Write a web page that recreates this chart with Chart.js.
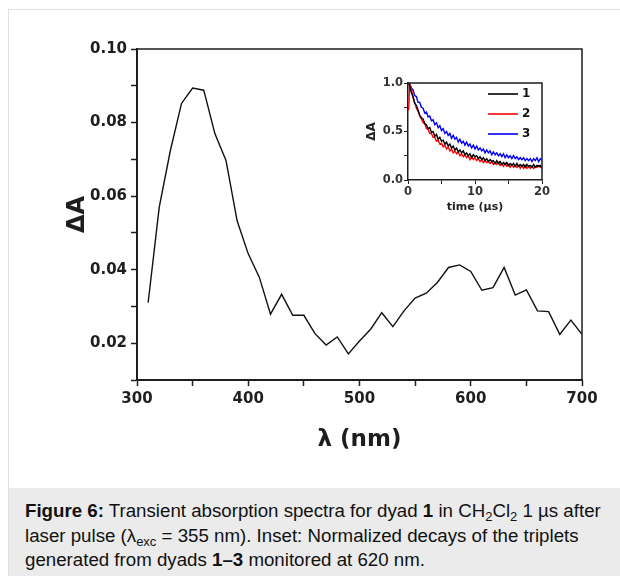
<!DOCTYPE html>
<html>
<head>
<meta charset="utf-8">
<script src="https://cdn.jsdelivr.net/npm/chart.js@4/dist/chart.umd.min.js"></script>
<style>
  body { margin: 0; width: 620px; height: 576px; overflow: hidden; background: #fff; position: relative;
         font-family: 'Liberation Sans', Arial, sans-serif; }
  #frame { position: absolute; left: 8px; top: 9px; width: 620px; height: 580px;
           border-left: 1px solid #e0e0e0; border-top: 1px solid #e0e0e0; }
  #main { position: absolute; left: 0; top: 0; }
  #inset { position: absolute; left: 365px; top: 65px; }
  #caption { position: absolute; left: 9px; top: 488px; width: 611px; height: 88px; background: #ebebeb;
             box-sizing: border-box; padding: 11px 0 0 16px; font-size: 18.7px; line-height: 24.5px;
             color: #111; white-space: nowrap; }
  #caption sub { font-size: 13px; vertical-align: -4px; line-height: 0; }
</style>
</head>
<body>
<div id="frame"></div>
<canvas id="main" width="620" height="488"></canvas>
<canvas id="inset" width="195" height="155"></canvas>
<div id="caption"><b>Figure 6:</b> Transient absorption spectra for dyad <b>1</b> in CH<sub>2</sub>Cl<sub>2</sub> 1 µs after<br>laser pulse (λ<sub>exc</sub> = 355 nm). Inset: Normalized decays of the triplets<br>generated from dyads <b>1–3</b> monitored at 620 nm.</div>
<script>
// ---------- Data: main spectrum ----------
const wavelength = [310, 320, 330, 340, 350, 360, 370, 380, 390, 400,
                    410, 420, 430, 440, 450, 460, 470, 480, 490, 500,
                    510, 520, 530, 540, 550, 560, 570, 580, 590, 600,
                    610, 620, 630, 640, 650, 660, 670, 680, 690, 700];
const deltaA = [0.0310, 0.0570, 0.0724, 0.0852, 0.0894, 0.0888, 0.0770, 0.0697, 0.0533, 0.0443,
                0.0379, 0.0279, 0.0333, 0.0276, 0.0276, 0.0226, 0.0195, 0.0217, 0.0171, 0.0206,
                0.0238, 0.0283, 0.0245, 0.0288, 0.0323, 0.0336, 0.0365, 0.0406, 0.0413, 0.0395,
                0.0344, 0.0351, 0.0406, 0.0331, 0.0345, 0.0288, 0.0286, 0.0224, 0.0263, 0.0224];

// ---------- Data: inset decays (normalized, read at 0.25 us) ----------
const decayTime = [0.1, 0.25, 0.5, 0.75, 1, 1.25, 1.5, 1.75, 2, 2.25, 2.5, 2.75, 3, 3.25, 3.5, 3.75, 4, 4.25, 4.5, 4.75,
                   5, 5.25, 5.5, 5.75, 6, 6.25, 6.5, 6.75, 7, 7.25, 7.5, 7.75, 8, 8.25, 8.5, 8.75, 9, 9.25, 9.5, 9.75,
                   10, 10.25, 10.5, 10.75, 11, 11.25, 11.5, 11.75, 12, 12.25, 12.5, 12.75, 13, 13.25, 13.5, 13.75, 14, 14.25, 14.5, 14.75,
                   15, 15.25, 15.5, 15.75, 16, 16.25, 16.5, 16.75, 17, 17.25, 17.5, 17.75, 18, 18.25, 18.5, 18.75, 19, 19.25, 19.5, 19.75, 20];
const decay1 = [1.00, 0.97, 0.90, 0.86, 0.79, 0.77, 0.72, 0.67, 0.64, 0.63, 0.58, 0.57, 0.53, 0.54, 0.49, 0.50, 0.45, 0.47, 0.42, 0.44,
                0.40, 0.41, 0.37, 0.39, 0.35, 0.37, 0.33, 0.35, 0.31, 0.33, 0.29, 0.31, 0.28, 0.30, 0.26, 0.28, 0.25, 0.27, 0.23, 0.26,
                0.24, 0.25, 0.22, 0.24, 0.21, 0.23, 0.20, 0.22, 0.19, 0.21, 0.19, 0.20, 0.17, 0.20, 0.17, 0.19, 0.16, 0.18, 0.16, 0.18,
                0.15, 0.17, 0.15, 0.17, 0.14, 0.17, 0.14, 0.16, 0.14, 0.16, 0.13, 0.16, 0.14, 0.15, 0.13, 0.16, 0.13, 0.15, 0.14, 0.15, 0.12];
const decay2 = [0.72, 0.99, 0.95, 0.85, 0.80, 0.74, 0.71, 0.66, 0.63, 0.59, 0.58, 0.53, 0.52, 0.48, 0.48, 0.44, 0.44, 0.40, 0.41, 0.37,
                0.38, 0.34, 0.36, 0.32, 0.34, 0.30, 0.32, 0.28, 0.30, 0.27, 0.29, 0.25, 0.27, 0.24, 0.26, 0.23, 0.25, 0.21, 0.24, 0.21,
                0.23, 0.20, 0.22, 0.19, 0.21, 0.18, 0.20, 0.18, 0.19, 0.17, 0.19, 0.16, 0.18, 0.16, 0.18, 0.15, 0.17, 0.14, 0.17, 0.14,
                0.16, 0.13, 0.16, 0.13, 0.15, 0.13, 0.15, 0.12, 0.15, 0.12, 0.15, 0.12, 0.14, 0.12, 0.14, 0.12, 0.14, 0.13, 0.15, 0.13, 0.14];
const decay3 = [1.00, 0.99, 0.95, 0.93, 0.87, 0.86, 0.80, 0.80, 0.75, 0.74, 0.69, 0.70, 0.65, 0.66, 0.61, 0.62, 0.57, 0.59, 0.54, 0.56,
                0.51, 0.53, 0.48, 0.50, 0.46, 0.48, 0.43, 0.46, 0.42, 0.44, 0.39, 0.42, 0.38, 0.40, 0.36, 0.39, 0.35, 0.37, 0.33, 0.36,
                0.32, 0.35, 0.31, 0.33, 0.30, 0.32, 0.28, 0.31, 0.28, 0.30, 0.26, 0.29, 0.26, 0.28, 0.25, 0.27, 0.24, 0.27, 0.23, 0.26,
                0.23, 0.25, 0.22, 0.25, 0.22, 0.24, 0.21, 0.23, 0.21, 0.23, 0.20, 0.22, 0.20, 0.22, 0.19, 0.22, 0.20, 0.23, 0.19, 0.22, 0.20];
const decayLabels = ['1', '2', '3'];
const decayColors = ['#000000', '#ff0000', '#0000ff'];

const ink = '#1e1e1e';

// draws the box around the plot area (top/right edges)
const frameBox = {
    id: 'frameBox',
    afterDraw(chart, args, opts) {
        const a = chart.chartArea, ctx = chart.ctx;
        ctx.save();
        ctx.strokeStyle = ink;
        ctx.lineWidth = opts.width || 1.5;
        ctx.beginPath();
        ctx.moveTo(a.left, a.top);
        ctx.lineTo(a.right, a.top);
        ctx.lineTo(a.right, a.bottom);
        ctx.stroke();
        ctx.restore();
    }
};

// ---------- Main chart ----------
const xy = (xs, ys) => xs.map((x, i) => ({ x: x, y: ys[i] }));

new Chart(document.getElementById('main'), {
    type: 'line',
    data: {
        datasets: [{
            data: xy(wavelength, deltaA),
            borderColor: '#111', borderWidth: 1.4, pointRadius: 0, tension: 0, fill: false
        }]
    },
    options: {
        responsive: false, animation: false,
        layout: { padding: { top: 49, right: 38, bottom: 0, left: 0 } },
        plugins: { legend: { display: false }, tooltip: { enabled: false }, frameBox: { width: 1.5 } },
        scales: {
            x: {
                type: 'linear', min: 300, max: 700,
                afterFit: s => { s.height = 108; },
                border: { display: true, color: ink, width: 2 },
                grid: { drawOnChartArea: false, tickLength: 6, tickColor: ink, tickWidth: 1.5 },
                ticks: {
                    stepSize: 50, color: ink, padding: 4, maxRotation: 0,
                    font: { family: 'DejaVu Sans', weight: 'bold', size: 15 },
                    callback: v => (v % 100 === 0 ? String(v) : '')
                },
                title: {
                    display: true, text: 'λ (nm)', color: ink,
                    font: { family: 'DejaVu Sans', weight: 'bold', size: 23 },
                    padding: { top: 0, bottom: 34 }
                }
            },
            y: {
                min: 0.01, max: 0.10,
                afterFit: s => { s.width = 137; },
                border: { display: true, color: ink, width: 2 },
                grid: { drawOnChartArea: false, tickLength: 6, tickColor: ink, tickWidth: 1.5 },
                ticks: {
                    stepSize: 0.01, color: ink, padding: 4,
                    font: { family: 'DejaVu Sans', weight: 'bold', size: 15 },
                    callback: v => (Math.round(v * 100) % 2 === 0 ? v.toFixed(2) : '')
                },
                title: {
                    display: true, text: 'ΔA', color: ink,
                    font: { family: 'DejaVu Sans', weight: 'bold', size: 24 },
                    padding: { top: 63, bottom: 0 }
                }
            }
        }
    },
    plugins: [frameBox]
});

// ---------- Inset legend (drawn inside the plot, top right) ----------
const insetLegend = {
    id: 'insetLegend',
    afterDraw(chart) {
        const a = chart.chartArea, ctx = chart.ctx;
        ctx.save();
        ctx.font = 'bold 12px "DejaVu Sans"';
        ctx.textBaseline = 'middle';
        chart.data.datasets.forEach((ds, i) => {
            const y = a.top + 11 + i * 20;
            ctx.strokeStyle = ds.borderColor;
            ctx.lineWidth = 1.6;
            ctx.beginPath();
            ctx.moveTo(a.right - 54, y);
            ctx.lineTo(a.right - 24, y);
            ctx.stroke();
            ctx.fillStyle = '#111';
            ctx.fillText(ds.label, a.right - 20, y);
        });
        ctx.restore();
    }
};

new Chart(document.getElementById('inset'), {
    type: 'line',
    data: {
        datasets: [decay1, decay2, decay3].map((d, i) => ({
            label: decayLabels[i],
            data: xy(decayTime, d),
            borderColor: decayColors[i], borderWidth: 1.4, pointRadius: 0, tension: 0, fill: false
        }))
    },
    options: {
        responsive: false, animation: false,
        layout: { padding: { top: 18, right: 18, bottom: 0, left: 0 } },
        plugins: { legend: { display: false }, tooltip: { enabled: false }, frameBox: { width: 1.5 } },
        scales: {
            x: {
                type: 'linear', min: 0, max: 20,
                afterFit: s => { s.height = 40; },
                border: { display: true, color: ink, width: 1.5 },
                grid: { drawOnChartArea: false, tickLength: 4, tickColor: ink, tickWidth: 1 },
                ticks: {
                    stepSize: 5, color: '#333', padding: 1, maxRotation: 0,
                    font: { family: 'DejaVu Sans', weight: 'bold', size: 11.5 },
                    callback: v => (v % 10 === 0 ? String(v) : '')
                },
                title: {
                    display: true, text: 'time (µs)', color: '#222',
                    font: { family: 'DejaVu Sans', weight: 'bold', size: 11 },
                    padding: { top: 0, bottom: 6 }
                }
            },
            y: {
                min: 0, max: 1,
                afterFit: s => { s.width = 43; },
                border: { display: true, color: ink, width: 1.5 },
                grid: { drawOnChartArea: false, tickLength: 4, tickColor: ink, tickWidth: 1 },
                ticks: {
                    stepSize: 0.25, color: '#333', padding: 1,
                    font: { family: 'DejaVu Sans', weight: 'bold', size: 11.5 },
                    callback: v => (Math.round(v * 100) % 50 === 0 ? v.toFixed(1) : '')
                },
                title: {
                    display: true, text: 'ΔA', color: '#222',
                    font: { family: 'DejaVu Sans', weight: 'bold', size: 12 },
                    padding: { top: 0, bottom: 0 }
                }
            }
        }
    },
    plugins: [frameBox, insetLegend]
});
</script>
</body>
</html>
